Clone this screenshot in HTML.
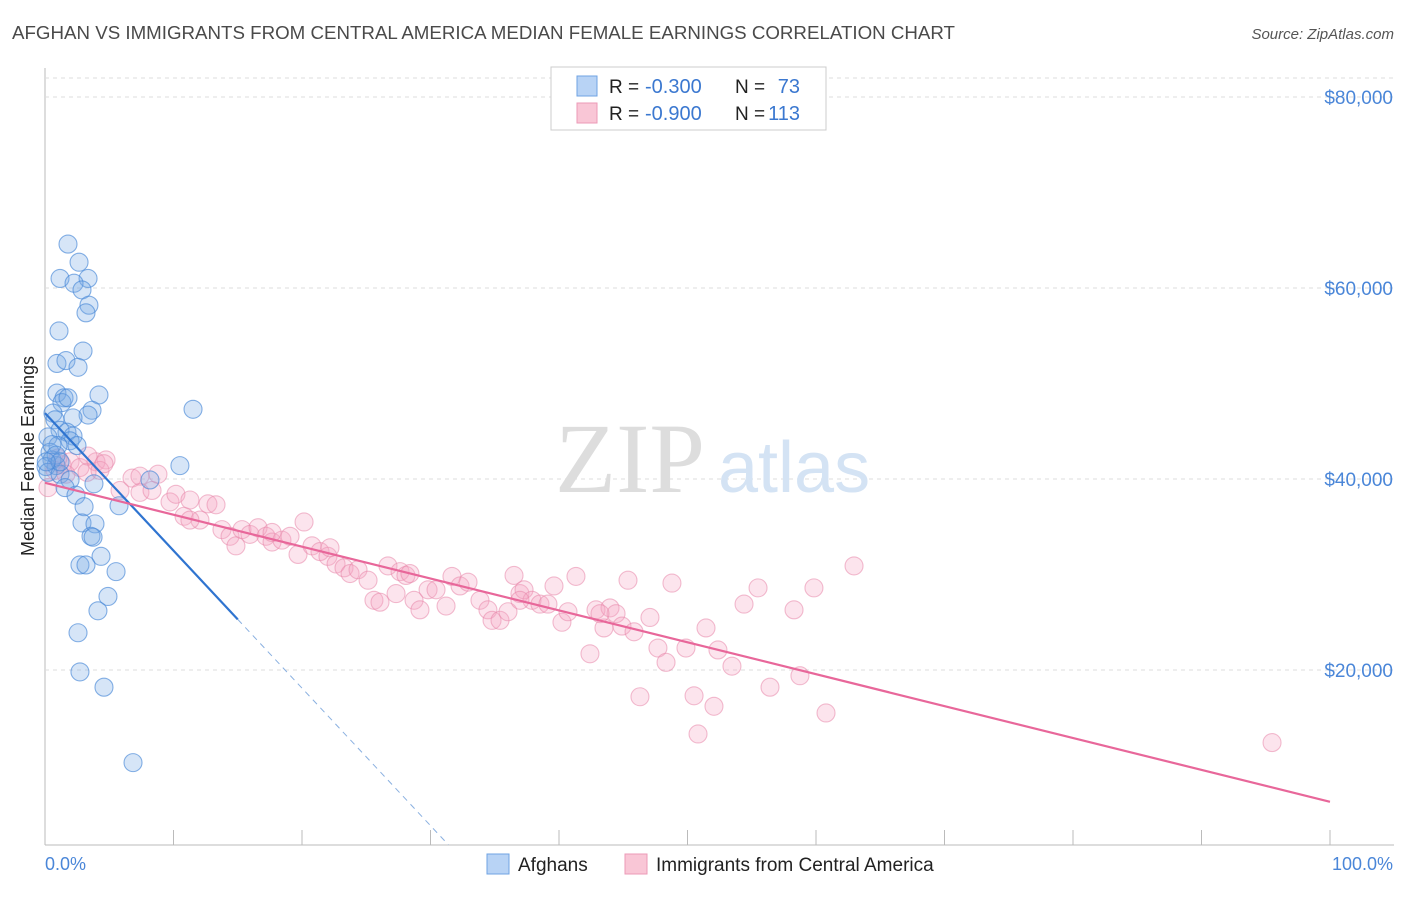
<!DOCTYPE html>
<html><head><meta charset="utf-8"><style>
body{margin:0;background:#fff;font-family:"Liberation Sans",sans-serif}
</style></head><body>
<svg id="chart" width="1406" height="892" xmlns="http://www.w3.org/2000/svg">
<text x="12" y="39" font-size="18" fill="#4a4a4a" textLength="943" lengthAdjust="spacingAndGlyphs">AFGHAN VS IMMIGRANTS FROM CENTRAL AMERICA MEDIAN FEMALE EARNINGS CORRELATION CHART</text>
<text x="1394" y="39" font-size="15" fill="#555" text-anchor="end" font-style="italic">Source: ZipAtlas.com</text>
<g id="grid"></g>
<text x="555" y="492" font-size="100" fill="#ddd" font-family="Liberation Serif,serif">ZIP</text>
<text x="718" y="492" font-size="72" fill="#d4e3f4">atlas</text>
<g id="pts"></g>
<g id="lines"></g>
<text transform="translate(34,456) rotate(-90)" font-size="18" fill="#222" text-anchor="middle">Median Female Earnings</text>
<text x="45" y="870" font-size="18" fill="#4a86d8">0.0%</text>
<text x="1393" y="870" font-size="18" fill="#4a86d8" text-anchor="end">100.0%</text>
<g>
<rect x="551" y="67" width="275" height="63" fill="#fff" stroke="#ccc"/>
<rect x="577" y="76" width="20" height="20" fill="#b8d3f5" stroke="#6fa3e3"/>
<rect x="577" y="103" width="20" height="20" fill="#f9c6d6" stroke="#ec9ab7"/>
<text x="609" y="93" font-size="19" fill="#222">R =</text>
<text x="645" y="93" font-size="20" fill="#3b78d0">-0.300</text>
<text x="735" y="93" font-size="19" fill="#222">N =</text>
<text x="800" y="93" font-size="20" fill="#3b78d0" text-anchor="end">73</text>
<text x="609" y="120" font-size="19" fill="#222">R =</text>
<text x="645" y="120" font-size="20" fill="#3b78d0">-0.900</text>
<text x="735" y="120" font-size="19" fill="#222">N =</text>
<text x="800" y="120" font-size="20" fill="#3b78d0" text-anchor="end">113</text>
</g>
<g>
<rect x="487" y="854" width="22" height="20" fill="#b8d3f5" stroke="#6fa3e3"/>
<text x="518" y="871" font-size="19" fill="#222">Afghans</text>
<rect x="625" y="854" width="22" height="20" fill="#f9c6d6" stroke="#ec9ab7"/>
<text x="656" y="871" font-size="19" fill="#222">Immigrants from Central America</text>
</g>
</svg>
<script>
const yTicks=[20000,40000,60000,80000];
const yTickLabels=["$20,000","$40,000","$60,000","$80,000"];
const blueX=[1.79,2.65,1.17,3.35,2.26,2.88,3.42,3.19,1.09,2.96,0.93,1.63,2.57,4.2,0.93,1.48,1.32,1.79,3.66,3.35,0.62,11.52,2.18,0.78,1.17,1.71,2.18,0.23,1.95,1.01,2.49,0.39,10.5,0.54,0.86,0.08,0.23,1.17,8.17,1.95,3.81,1.56,2.41,5.76,3.04,2.88,3.89,3.58,3.74,4.36,2.72,3.19,5.53,4.9,4.12,2.57,2.72,4.59,6.85,0.54,0.86,1.17,0.1];
const blueY=[64.6,62.7,61.0,61.0,60.5,59.8,58.2,57.4,55.5,53.4,52.1,52.4,51.7,48.8,49.0,48.5,48.0,48.5,47.2,46.7,46.9,47.3,46.4,46.2,45.1,44.9,44.5,44.4,44.0,43.5,43.5,42.8,41.4,42.0,41.4,41.3,40.7,40.5,39.9,39.9,39.5,39.1,38.3,37.2,37.1,35.4,35.3,34.0,33.9,31.9,31.0,31.0,30.3,27.7,26.2,23.9,19.8,18.2,10.3,43.6,42.5,41.8,41.8];
const pinkX=[0.23,0.78,1.32,1.95,2.72,3.97,4.75,3.27,4.28,5.84,6.77,7.39,8.33,8.79,9.73,10.19,10.82,11.28,12.06,12.68,13.31,13.77,14.4,14.86,15.33,15.95,16.58,17.2,17.67,18.44,19.07,19.69,20.16,20.78,21.4,22.02,22.65,23.27,23.74,24.36,25.14,25.6,26.07,26.69,27.32,27.63,28.09,28.72,29.18,29.81,30.43,31.21,31.67,32.3,32.92,33.85,34.47,34.79,35.41,36.03,36.5,36.96,37.28,37.9,38.52,39.14,39.61,40.23,40.7,41.32,42.41,42.88,43.5,43.97,44.44,44.9,45.37,45.84,46.3,47.08,47.7,48.33,48.79,49.88,50.51,50.82,51.44,52.06,52.37,53.46,54.4,55.49,56.42,58.29,58.75,59.84,60.78,62.96,95.49,1.01,1.63,3.35,4.59,7.39,11.28,17.67,22.18,28.4,36.96,43.19];
const pinkY=[39.1,40.9,41.5,41.8,41.2,41.8,42.0,40.7,40.9,38.8,40.1,38.6,38.8,40.5,37.6,38.4,36.1,37.8,35.7,37.4,37.3,34.7,34.0,33.0,34.7,34.2,34.9,34.0,33.4,33.6,34.0,32.1,35.5,33.0,32.4,31.9,31.1,30.7,30.1,30.5,29.4,27.3,27.1,30.9,28.0,30.3,29.9,27.3,26.3,28.4,28.4,26.7,29.8,28.8,29.2,27.3,26.3,25.2,25.2,26.1,29.9,28.0,28.4,27.3,26.9,26.9,28.8,25.0,26.1,29.8,21.7,26.3,24.4,26.5,25.9,24.6,29.4,24.0,17.2,25.5,22.3,20.8,29.1,22.3,17.3,13.3,24.4,16.2,22.1,20.4,26.9,28.6,18.2,26.3,19.4,28.6,15.5,30.9,12.4,42.2,40.5,42.4,41.6,40.3,35.7,34.4,32.8,30.1,27.3,25.9];
const blueTrend=[46.9,1.44,15.0];
const pinkTrend=[39.6,6.2];
const NS="http://www.w3.org/2000/svg";
const sx=v=>45+v*12.85, sy=v=>861-v*9.55;
function mk(t,a,p){const e=document.createElementNS(NS,t);for(const k in a)e.setAttribute(k,a[k]);p.appendChild(e);return e;}
const grid=document.getElementById('grid');
let l=mk('line',{x1:45,y1:68,x2:45,y2:845,stroke:'#bbb'},grid);


l=mk('line',{x1:45,y1:845,x2:1394,y2:845,stroke:'#bbb'},grid);


l=mk('line',{x1:45,y1:78,x2:1394,y2:78,stroke:'#ddd','stroke-dasharray':'4,4'},grid);


for(let i=0;i<=10;i++){const x=sx(i*10);const t=mk('line',{x1:x,y1:830,x2:x,y2:845,stroke:'#bbb'},grid);

}
yTicks.forEach((v,i)=>{const y=sy(v/1000);const g=mk('line',{x1:45,y1:y,x2:1394,y2:y,stroke:'#ddd','stroke-dasharray':'4,4'},grid);


const t=mk('text',{x:1393,y:y+7,'font-size':19,fill:'#4a86d8','text-anchor':'end'},grid);t.textContent=yTickLabels[i];

});
const pts=document.getElementById('pts');
pinkX.forEach((x,i)=>{const c=mk('circle',{cx:sx(x),cy:sy(pinkY[i]),r:9,fill:'rgba(244,165,195,0.3)',stroke:'rgba(232,135,170,0.55)','stroke-width':1.1},pts);

});
blueX.forEach((x,i)=>{const c=mk('circle',{cx:sx(x),cy:sy(blueY[i]),r:9,fill:'rgba(120,170,230,0.3)',stroke:'rgba(70,135,215,0.65)','stroke-width':1.1},pts);

});
const ln=document.getElementById('lines');
const bEnd=blueTrend[2], bZero=(blueTrend[0]-1.7)/blueTrend[1];
l=mk('line',{x1:sx(0),y1:sy(blueTrend[0]),x2:sx(bEnd),y2:sy(blueTrend[0]-blueTrend[1]*bEnd),stroke:'#2f74d0','stroke-width':2.2},ln);


l=mk('line',{x1:sx(bEnd),y1:sy(blueTrend[0]-blueTrend[1]*bEnd),x2:sx(bZero),y2:sy(1.7),stroke:'#8ab0e0','stroke-width':1,'stroke-dasharray':'6,5'},ln);


l=mk('line',{x1:sx(0),y1:sy(pinkTrend[0]),x2:sx(100),y2:sy(pinkTrend[1]),stroke:'#e8679a','stroke-width':2.2},ln);


</script>
</body></html>
